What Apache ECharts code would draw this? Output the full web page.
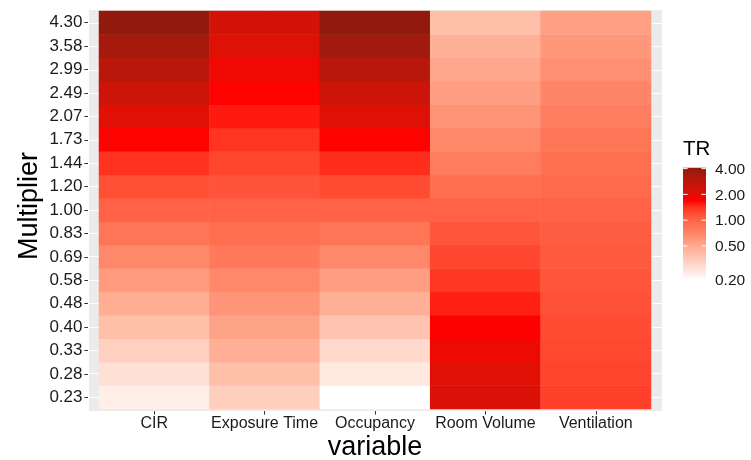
<!DOCTYPE html>
<html>
<head>
<meta charset="utf-8">
<script src="https://cdn.jsdelivr.net/npm/echarts@6/dist/echarts.min.js"></script>
<style>
html,body{margin:0;padding:0;background:#fff;}
#chart{width:751px;height:460px;}
</style>
</head>
<body>
<div id="chart"></div>
<script>
// ---------------- data ----------------
const variables = ['CIR', 'Exposure Time', 'Occupancy', 'Room Volume', 'Ventilation'];
const multipliers = ['0.23','0.28','0.33','0.40','0.48','0.58','0.69','0.83','1.00','1.20','1.44','1.73','2.07','2.49','2.99','3.58','4.30'];
const trCIR        = [0.23,0.28,0.33,0.40,0.48,0.58,0.69,0.83,1.00,1.19,1.42,1.70,2.03,2.43,2.90,3.45,4.10];
const trExposure   = [0.34,0.40,0.47,0.53,0.61,0.69,0.80,0.90,1.00,1.14,1.26,1.40,1.55,1.70,1.85,2.05,2.25];
const trOccupancy  = [0.20,0.25,0.30,0.38,0.46,0.56,0.68,0.83,1.00,1.21,1.45,1.70,2.05,2.45,2.90,3.55,4.10];
const trRoomVolume = [2.15,2.03,1.90,1.72,1.52,1.38,1.25,1.13,1.00,0.89,0.77,0.69,0.62,0.56,0.51,0.46,0.40];
const trVentilation= [1.30,1.27,1.24,1.21,1.17,1.12,1.09,1.05,1.00,0.93,0.88,0.83,0.76,0.70,0.64,0.60,0.55];
const legendTicks  = [4, 2, 1, 0.5, 0.2];
const legendLabels = ['4.00', '2.00', '1.00', '0.50', '0.20'];
const trMin = 0.20, trMax = 4.10;

// colour scale (log TR -> colour)
const colourStops = [
  [0.20,'#FFFFFF'],[0.23,'#FFEFE8'],[0.28,'#FFE0D5'],[0.33,'#FFD0C0'],[0.40,'#FFBFA9'],
  [0.48,'#FFAD93'],[0.58,'#FF9A7E'],[0.69,'#FF876A'],[0.83,'#FF7656'],[1.00,'#FF6347'],
  [1.19,'#FF4F35'],[1.42,'#FF3320'],[1.70,'#FF0000'],[2.03,'#E01005'],[2.43,'#CC1408'],
  [2.90,'#B9170B'],[3.45,'#A6190D'],[4.10,'#921A0C']
];
function hexToRgb(h){ return [parseInt(h.slice(1,3),16),parseInt(h.slice(3,5),16),parseInt(h.slice(5,7),16)]; }
function colourAt(v){
  const lv = Math.log(v);
  if (v <= colourStops[0][0]) return colourStops[0][1];
  for (let i = 0; i < colourStops.length - 1; i++) {
    const a = colourStops[i], b = colourStops[i+1];
    if (v <= b[0]) {
      const t = (lv - Math.log(a[0])) / (Math.log(b[0]) - Math.log(a[0]));
      const ca = hexToRgb(a[1]), cb = hexToRgb(b[1]);
      const c = ca.map((x, k) => Math.round(x + (cb[k] - x) * t));
      return 'rgb(' + c.join(',') + ')';
    }
  }
  return colourStops[colourStops.length-1][1];
}
const N = 80;
const lmin = Math.log(trMin), lmax = Math.log(trMax);
const paletteColours = [];
for (let i = 0; i <= N; i++) paletteColours.push(colourAt(Math.exp(lmin + (lmax - lmin) * i / N)));

const seriesByVar = [trCIR, trExposure, trOccupancy, trRoomVolume, trVentilation];
const heatData = [];
seriesByVar.forEach((arr, xi) => arr.forEach((v, yi) => heatData.push([xi, yi, v, Math.log(v)])));

// ---------------- legend (colourbar) ----------------
const font = 'Liberation Sans, Arial, Helvetica, sans-serif';
const barX = 683, barY = 167.7, barW = 23, barH = 112.3;
const grad = [];
for (let i = 0; i <= 60; i++) grad.push({offset: i/60, color: colourAt(Math.exp(lmax - (lmax - lmin) * i / 60))});
const legendGraphics = [
  {type:'text', left: 683, top: 138.5, style:{text:'TR', font: '20.5px ' + font, fill:'#000'}},
  {type:'rect', shape:{x:barX, y:barY, width:barW, height:barH}, style:{fill:{type:'linear',x:0,y:0,x2:0,y2:1,colorStops:grad}}}
];
legendTicks.forEach((v, i) => {
  const y = barY + (lmax - Math.log(v)) / (lmax - lmin) * barH;
  if (v > trMin) {
    legendGraphics.push({type:'line', shape:{x1:barX, y1:y, x2:barX+4.6, y2:y}, style:{stroke:'#fff', lineWidth:1}});
    legendGraphics.push({type:'line', shape:{x1:barX+barW-4.6, y1:y, x2:barX+barW, y2:y}, style:{stroke:'#fff', lineWidth:1}});
  }
  legendGraphics.push({type:'text', x: 715, y: y + 1, style:{text: legendLabels[i], font:'15.5px ' + font, fill:'#1A1A1A', textVerticalAlign:'middle', textAlign:'left'}});
});

const chart = echarts.init(document.getElementById('chart'), null, {renderer:'canvas'});
chart.setOption({
  animation: false,
  backgroundColor: '#fff',
  grid: [
    {left: 88, top: 9, width: 574, height: 402, show: true, backgroundColor: '#EBEBEB', borderWidth: 0},
    {left: 99, top: 11, width: 552, height: 398, show: false}
  ],
  xAxis: [
    {type:'value', gridIndex:0, min:0.4, max:5.6, minInterval:1, maxInterval:1, splitNumber:5,
     axisLine:{show:false}, axisTick:{show:false}, axisLabel:{show:false},
     splitLine:{show:true, lineStyle:{color:'#fff', width:1.1}}},
    {type:'category', gridIndex:1, data: variables, offset: 2,
     axisLine:{show:false},
     axisTick:{show:true, alignWithLabel:true, length:3.67, lineStyle:{color:'#333', width:1}},
     axisLabel:{fontSize:16, fontFamily: font, color:'#1A1A1A', margin:4.5, interval:0},
     splitLine:{show:false}}
  ],
  yAxis: [
    {type:'value', gridIndex:0, min:0.4, max:17.6, minInterval:1, maxInterval:1, splitNumber:17,
     axisLine:{show:false}, axisTick:{show:false}, axisLabel:{show:false},
     splitLine:{show:true, lineStyle:{color:'#fff', width:1.1}}},
    {type:'category', gridIndex:1, data: multipliers, offset: 11,
     axisLine:{show:false},
     axisTick:{show:true, alignWithLabel:true, length:3.67, lineStyle:{color:'#333', width:1}},
     axisLabel:{fontSize:17, fontFamily: font, color:'#1A1A1A', margin:5.5, interval:0},
     splitLine:{show:false}}
  ],
  visualMap: {
    type:'continuous', show:false, dimension:3, seriesIndex:0,
    min: lmin, max: lmax, inRange:{color: paletteColours}
  },
  series: [{
    type:'heatmap', xAxisIndex:1, yAxisIndex:1, data: heatData,
    itemStyle:{borderWidth:0},
    emphasis:{disabled:true}, progressive:0
  }],
  graphic: [
    {type:'text', x: 30, y: 206, rotation: Math.PI/2,
     style:{text:'Multiplier', font:'27px ' + font, fill:'#000', textAlign:'center', textVerticalAlign:'middle'}},
    {type:'text', x: 375, y: 447.5, style:{text:'variable', font:'27px ' + font, fill:'#000', textAlign:'center', textVerticalAlign:'middle'}}
  ].concat(legendGraphics)
});
</script>
</body>
</html>
